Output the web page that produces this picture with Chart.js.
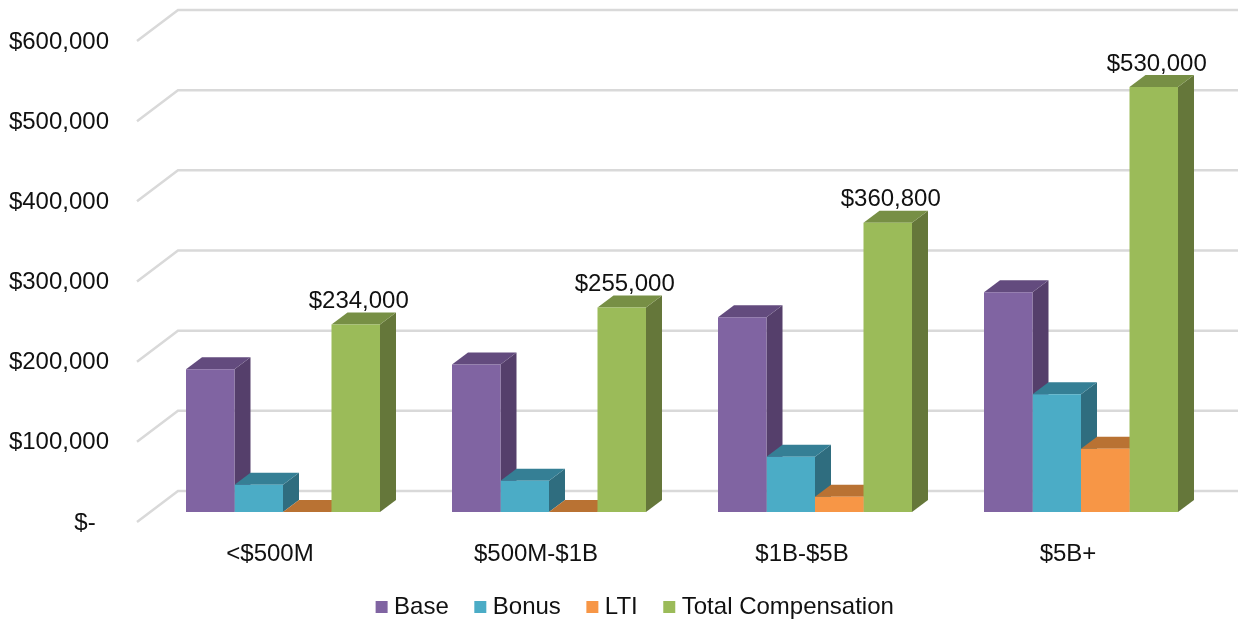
<!DOCTYPE html>
<html>
<head>
<meta charset="utf-8">
<title>Compensation by revenue size</title>
<style>
    html, body { margin: 0; padding: 0; background: #fff; }
    canvas { display: block; }
</style>
<script src="https://cdn.jsdelivr.net/npm/chart.js@4/dist/chart.umd.min.js"></script>
</head>
<body>
<canvas id="compChart" width="1238" height="621"></canvas>
<script>
var categories = ["<$500M", "$500M-$1B", "$1B-$5B", "$5B+"];
var base = [178000, 184000, 243000, 274000];
var bonus = [34000, 39000, 69000, 147000];
var lti = [0, 0, 19000, 79000];
var totalComp = [234000, 255000, 360800, 530000];
var tickLabels = ["$-  ", "$100,000", "$200,000", "$300,000", "$400,000", "$500,000", "$600,000"];

var frontColors = ["#8064a2", "#4bacc6", "#f79646", "#9bbb59"];
var topColors = ["#634b7e", "#357f95", "#b97233", "#778f45"];
var sideColors = ["#553f6b", "#2f6d7f", "#a5652c", "#65773a"];

var FONT = { family: "'Liberation Sans', Arial, sans-serif", size: 24 };
var TEXT = "#111";

/*---------------------------------------------------
  Fake 3D: floor lines + bar depth
---------------------------------------------------*/
var depthPlugin = {
    id: "depth",
    afterLayout: function (chart) {
        // legend sits higher and further right than chart.js would put it
        var legend = chart.legend;
        legend.left += 26;
        legend.right += 26;
        legend.top -= 12;
        legend.bottom -= 12;
    },
    beforeDatasetsDraw: function (chart) {
        var ctx = chart.ctx;
        var y = chart.scales.y;
        var dx = 16, dy = 12;
        ctx.save();
        ctx.strokeStyle = "#d9d9d9";
        ctx.lineWidth = 2.5;
        y.ticks.forEach(function (t) {
            var py = y.getPixelForValue(t.value);
            ctx.beginPath();
            ctx.moveTo(137, py + 10);
            ctx.lineTo(178, py - 21);
            ctx.lineTo(chart.width, py - 21);
            ctx.stroke();
        });
        // sides and tops go under all the bar fronts, left series first
        chart.data.datasets.forEach(function (ds, i) {
            chart.getDatasetMeta(i).data.forEach(function (bar) {
                var left = bar.x - bar.width / 2;
                var right = bar.x + bar.width / 2;
                ctx.fillStyle = sideColors[i];
                ctx.beginPath();
                ctx.moveTo(right, bar.y);
                ctx.lineTo(right + dx, bar.y - dy);
                ctx.lineTo(right + dx, bar.base - dy);
                ctx.lineTo(right, bar.base);
                ctx.closePath();
                ctx.fill();
                ctx.fillStyle = topColors[i];
                ctx.beginPath();
                ctx.moveTo(left, bar.y);
                ctx.lineTo(left + dx, bar.y - dy);
                ctx.lineTo(right + dx, bar.y - dy);
                ctx.lineTo(right, bar.y);
                ctx.closePath();
                ctx.fill();
            });
        });
        ctx.restore();
    },
    afterDatasetsDraw: function (chart) {
        // value labels on the total series only
        var ctx = chart.ctx;
        ctx.save();
        ctx.font = FONT.size + "px " + FONT.family;
        ctx.fillStyle = TEXT;
        ctx.textAlign = "center";
        ctx.textBaseline = "middle";
        chart.getDatasetMeta(3).data.forEach(function (bar, idx) {
            ctx.fillText("$" + totalComp[idx].toLocaleString("en-US"), bar.x + 3, bar.y - 23);
        });
        ctx.restore();
    }
};

/*---------------------------------------------------
  Chart
---------------------------------------------------*/
var names = ["Base", "Bonus", "LTI", "Total Compensation"];
var series = [base, bonus, lti, totalComp];

new Chart(document.getElementById("compChart"), {
    type: "bar",
    plugins: [depthPlugin],
    data: {
        labels: categories,
        datasets: series.map(function (values, i) {
            return {
                label: names[i],
                data: values,
                backgroundColor: frontColors[i],
                borderWidth: 0,
                clip: false,
                categoryPercentage: 0.7293,
                barPercentage: 1
            };
        })
    },
    options: {
        responsive: false,
        animation: false,
        layout: { autoPadding: false, padding: { left: 9, right: 24, top: 31, bottom: -20 } },
        scales: {
            x: {
                grid: { display: false },
                border: { display: false },
                afterFit: function (scale) { scale.height = 64; },
                ticks: {
                    color: TEXT,
                    font: FONT,
                    padding: 20,
                    labelOffset: -13,
                    maxRotation: 0
                }
            },
            y: {
                min: 0,
                max: 600000,
                // ticks.padding would also push the plot top down, so the gap comes from tickLength
                grid: { display: false, drawTicks: true, tickLength: 41 },
                border: { display: false },
                afterFit: function (scale) { scale.width = 141; },
                ticks: {
                    stepSize: 100000,
                    color: TEXT,
                    font: FONT,
                    padding: 0,
                    labelOffset: 11,
                    callback: function (value, index) { return tickLabels[index]; }
                }
            }
        },
        plugins: {
            tooltip: { enabled: false },
            legend: {
                position: "bottom",
                labels: {
                    color: TEXT,
                    font: FONT,
                    usePointStyle: true,
                    pointStyle: "rect",
                    boxWidth: 1,
                    boxHeight: 12,
                    padding: 31
                }
            }
        }
    }
});
</script>
</body>
</html>
